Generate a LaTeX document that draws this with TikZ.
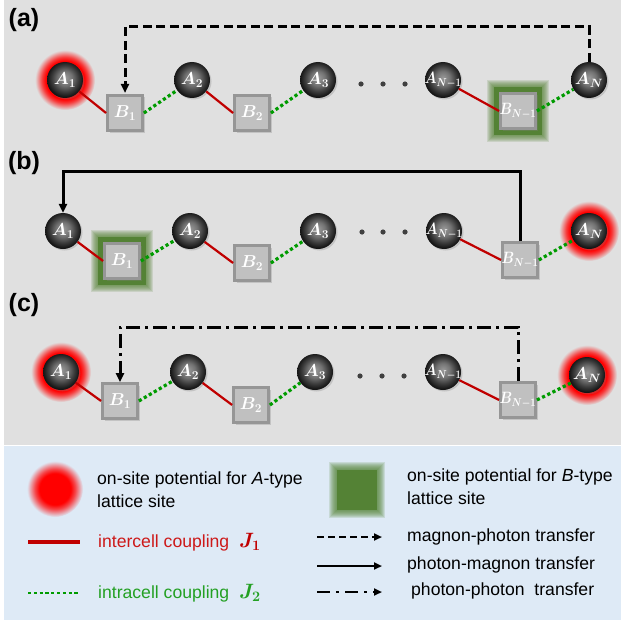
\documentclass[tikz,border=0pt]{standalone}
\usepackage{fontspec}
\usepackage{graphicx}
\setmainfont{Liberation Sans}
\usetikzlibrary{arrows.meta,shadows}
\definecolor{bggray}{RGB}{224,224,224}
\definecolor{legblue}{RGB}{222,234,246}
\definecolor{cred}{RGB}{192,0,0}
\definecolor{ctred}{RGB}{205,25,25}
\definecolor{cgreen}{RGB}{0,155,0}
\definecolor{ctgreen}{RGB}{35,160,35}
\definecolor{gframe}{RGB}{84,130,53}
\definecolor{sqfill}{RGB}{192,192,192}
\definecolor{sqdraw}{RGB}{150,150,150}
\pgfdeclareradialshading{sphere}{\pgfpoint{0bp}{3bp}}{color(0bp)=(black!40); color(10bp)=(black!55); color(18bp)=(black!76); color(25bp)=(black!92); color(50bp)=(black!92)}
\pgfdeclareradialshading{redglow}{\pgfpoint{0bp}{0bp}}{color(0bp)=(red); color(16bp)=(red); color(19bp)=(red!75!bggray); color(25bp)=(bggray); color(50bp)=(bggray)}
\pgfdeclareradialshading{redglowL}{\pgfpoint{0bp}{0bp}}{color(0bp)=(red); color(14bp)=(red); color(18bp)=(red!70!legblue); color(25bp)=(legblue); color(50bp)=(legblue)}
\newcommand\gglow[4]{%
  \foreach \s in {#4,...,#3}{\fill[gframe,opacity=0.16] (#1-\s,#2-\s) rectangle (#1+\s,#2+\s);}
  \fill[gframe] (#1-#3,#2-#3) rectangle (#1+#3,#2+#3);}
\newcommand\lab[1]{\makebox[0pt]{$#1$}}
\newcommand\labn[1]{\makebox[0pt]{\scalebox{0.8}[0.95]{$#1$}}}
\tikzset{
  asite/.style={circle, minimum size=36pt, inner sep=0pt, shade, shading=sphere, text=white,
    font=\fontsize{17}{17}\selectfont\boldmath,
    drop shadow={opacity=0.3, shadow xshift=1.5pt, shadow yshift=-1.5pt}},
  bsite/.style={rectangle, minimum size=35pt, inner sep=0pt, fill=sqfill, draw=sqdraw, line width=2.8pt,
    text=white, font=\fontsize{17}{17}\selectfont\boldmath,
    drop shadow={opacity=0.3, shadow xshift=2pt, shadow yshift=-2pt}},
  jone/.style={draw=cred, line width=2.2pt},
  jtwo/.style={draw=cgreen, line width=3.2pt, dash pattern=on 3.2pt off 2.6pt},
  tip/.style={-{Triangle[length=9pt,width=8pt]}},
  mpt/.style={tip, line width=3pt, dash pattern=on 9pt off 4.5pt},
  pmt/.style={tip, line width=3pt},
  ppt/.style={tip, line width=3pt, dash pattern=on 14pt off 5pt on 3pt off 5pt},
  legarrow/.style={-{Triangle[length=8pt,width=7pt]}, line width=2.8pt},
  plabel/.style={font=\fontsize{25}{25}\selectfont\bfseries, inner sep=0pt},
  legtext/.style={font=\fontsize{17.6}{23}\selectfont, anchor=west, align=left, inner sep=0pt},
  dotc/.style={fill=black!75},
}
\begin{document}
\begin{tikzpicture}[x=1pt,y=-1pt]
\useasboundingbox (0,0) rectangle (621,623);
\fill[white] (0,0) rectangle (621,623);
\fill[bggray] (4,0) rectangle (621,445);
\fill[legblue] (4,446) rectangle (621,620);

% ---------- panel (a)
\node[plabel] (la) at (24,20) {(a)};
\shade[shading=redglow] (65,80) circle (30pt);
\gglow{518}{111}{24}{31}
\draw[mpt] (589,62) -- (589,27) -| (125,93);
\node[asite] (a1) at (65,80) {\lab{A_1}};
\node[bsite] (b1) at (125,113) {\lab{B_1}};
\node[asite] (a2) at (192,80) {\lab{A_2}};
\node[bsite] (b2) at (252,113) {\lab{B_2}};
\node[asite] (a3) at (318,80) {\lab{A_3}};
\node[asite] (an1) at (443,80) {\labn{A_{N-1}}};
\node[bsite] (bn1) at (518,111) {\labn{B_{N-1}}};
\node[asite] (an) at (589,80) {\lab{A_N}};
\foreach \x in {361,383,405} \fill[dotc] (\x,84) circle (2.6pt);
\draw[jone] (a1) -- (b1.west);
\draw[jtwo] (b1.east) -- (a2);
\draw[jone] (a2) -- (b2.west);
\draw[jtwo] (b2.east) -- (a3);
\draw[jone] (an1) -- (bn1.west);
\draw[jtwo] (bn1.east) -- (an);

% ---------- panel (b)
\node[plabel] (lb) at (24,163) {(b)};
\shade[shading=redglow] (589,231) circle (30pt);
\gglow{122}{261}{24}{31}
\node[asite] (a1b) at (63,231) {\lab{A_1}};
\node[bsite] (b1b) at (122,261) {\lab{B_1}};
\node[asite] (a2b) at (190,231) {\lab{A_2}};
\node[bsite] (b2b) at (252,263) {\lab{B_2}};
\node[asite] (a3b) at (318,231) {\lab{A_3}};
\node[asite] (an1b) at (444,231) {\labn{A_{N-1}}};
\node[bsite] (bn1b) at (520,260) {\labn{B_{N-1}}};
\node[asite] (anb) at (589,231) {\lab{A_N}};
\foreach \x in {362,383,405} \fill[dotc] (\x,232) circle (2.6pt);
\draw[pmt] (bn1b.north) -- (bn1b.north |- 0,171) -| (a1b.north);
\draw[jone] (a1b) -- (b1b.west);
\draw[jtwo] (b1b.east) -- (a2b);
\draw[jone] (a2b) -- (b2b.west);
\draw[jtwo] (b2b.east) -- (a3b);
\draw[jone] (an1b) -- (bn1b.west);
\draw[jtwo] (bn1b.east) -- (anb);

% ---------- panel (c)
\node[plabel] (lc) at (24,305) {(c)};
\shade[shading=redglow] (61,372) circle (30pt);
\shade[shading=redglow] (587,375) circle (30pt);
\node[asite] (a1c) at (61,372) {\lab{A_1}};
\node[bsite] (b1c) at (120,401) {\lab{B_1}};
\node[asite] (a2c) at (188,372) {\lab{A_2}};
\node[bsite] (b2c) at (251,405) {\lab{B_2}};
\node[asite] (a3c) at (315,372) {\lab{A_3}};
\node[asite] (an1c) at (443,372) {\labn{A_{N-1}}};
\node[bsite] (bn1c) at (518,400) {\labn{B_{N-1}}};
\node[asite] (anc) at (587,375) {\lab{A_N}};
\foreach \x in {360,382,404} \fill[dotc] (\x,376) circle (2.6pt);
\draw[ppt] (bn1c.north) -- (bn1c.north |- 0,327) -| (b1c.north);
\draw[jone] (a1c) -- (b1c.west);
\draw[jtwo] (b1c.east) -- (a2c);
\draw[jone] (a2c) -- (b2c.west);
\draw[jtwo] (b2c.east) -- (a3c);
\draw[jone] (an1c) -- (bn1c.west);
\draw[jtwo] (bn1c.east) -- (anc);

% ---------- legend
\shade[shading=redglowL] (55,489) circle (28pt);
\node[legtext] (t1) at (97,490) {on-site potential for \textit{A}-type\\lattice site};
\foreach \s in {28,...,21}{\fill[gframe,opacity=0.16] (357-\s,490-\s) rectangle (357+\s,490+\s);}
\fill[gframe] (337,470) rectangle (377,510);
\node[legtext] (t2) at (407,486.5) {on-site potential for \textit{B}-type\\lattice site};
\coordinate (r0) at (28,542); \coordinate (r1) at (80,542);
\draw[cred, line width=3.2pt] (r0) -- (r1);
\node[legtext, text=ctred] (t3) at (98,542) {intercell coupling\ \ {\fontsize{21}{21}\selectfont\boldmath\color{cred}$J_1$}};
\coordinate (g0) at (28,593); \coordinate (g1) at (78,593);
\draw[jtwo, line width=2.8pt] (g0) -- (g1);
\node[legtext, text=ctgreen] (t4) at (98,593) {intracell coupling\ \ {\fontsize{21}{21}\selectfont\boldmath$J_2$}};
\coordinate (m0) at (317,537); \coordinate (m1) at (382,537);
\draw[legarrow, dash pattern=on 7pt off 4pt] (m0) -- (m1);
\node[legtext] (t5) at (407,537) {magnon-photon transfer};
\coordinate (p0) at (317,566); \coordinate (p1) at (382,566);
\draw[legarrow] (p0) -- (p1);
\node[legtext] (t6) at (407,565) {photon-magnon transfer};
\coordinate (q0) at (317,592); \coordinate (q1) at (382,592);
\draw[legarrow, dash pattern=on 13pt off 6pt on 3pt off 6pt] (q0) -- (q1);
\node[legtext] (t7) at (411,591) {photon-photon\ \ transfer};
\end{tikzpicture}
\end{document}
